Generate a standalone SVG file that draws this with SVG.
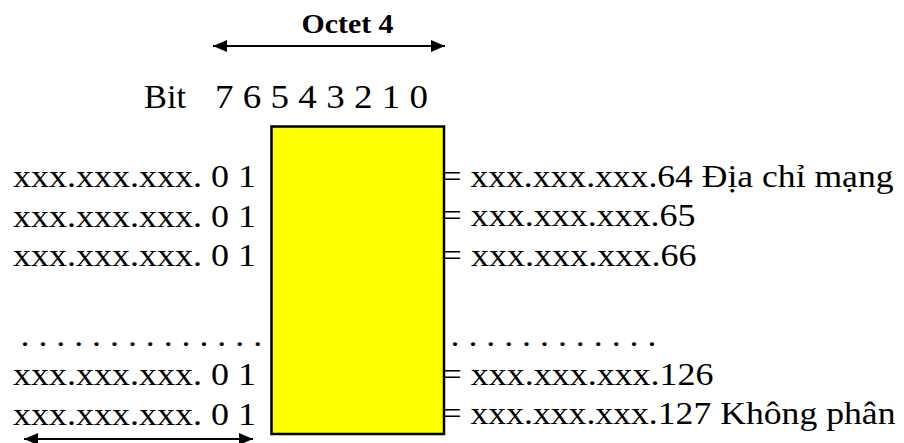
<svg xmlns="http://www.w3.org/2000/svg" width="904" height="443" viewBox="0 0 904 443">
<style>
text{font-family:"Liberation Serif","Times New Roman",serif;font-size:32px;fill:#000}
.b{font-weight:bold;font-size:28px}
.big{font-size:33.5px}
.arr{stroke:#000;stroke-width:2;fill:none}
.box{fill:#FFFF00;stroke:#000;stroke-width:2.5}
</style>
<defs>
<marker id="ah" viewBox="0 0 14 12" refX="14" refY="6" markerWidth="14" markerHeight="12" markerUnits="userSpaceOnUse" orient="auto-start-reverse">
<path d="M0,0 L14,6 L0,12 Z" fill="#000"/>
</marker>
</defs>
<g id="header">
<text class="b" x="301.5" y="32.5" textLength="92" lengthAdjust="spacingAndGlyphs">Octet 4</text>
<text class="big" x="144" y="108" textLength="42" lengthAdjust="spacingAndGlyphs">Bit</text>
<text class="big" x="215" y="108" textLength="213" lengthAdjust="spacingAndGlyphs">7 6 5 4 3 2 1 0</text>
</g>
<g id="left-labels">
<text x="13" y="187" textLength="243" lengthAdjust="spacingAndGlyphs">xxx.xxx.xxx. 0 1</text>
<text x="13" y="226.5" textLength="243" lengthAdjust="spacingAndGlyphs">xxx.xxx.xxx. 0 1</text>
<text x="13" y="266" textLength="243" lengthAdjust="spacingAndGlyphs">xxx.xxx.xxx. 0 1</text>
<text x="20.5" y="346" textLength="241.6" lengthAdjust="spacingAndGlyphs">. . . . . . . . . . . . . .</text>
<text x="13" y="385" textLength="243" lengthAdjust="spacingAndGlyphs">xxx.xxx.xxx. 0 1</text>
<text x="13" y="424.5" textLength="243" lengthAdjust="spacingAndGlyphs">xxx.xxx.xxx. 0 1</text>
</g>
<g id="right-labels">
<text x="441.5" y="186.5" textLength="452" lengthAdjust="spacingAndGlyphs">= xxx.xxx.xxx.64 Địa chỉ mạng</text>
<text x="441.5" y="226" textLength="254" lengthAdjust="spacingAndGlyphs">= xxx.xxx.xxx.65</text>
<text x="441.5" y="265.5" textLength="255" lengthAdjust="spacingAndGlyphs">= xxx.xxx.xxx.66</text>
<text x="450.5" y="346" textLength="205.9" lengthAdjust="spacingAndGlyphs">. . . . . . . . . . . .</text>
<text x="441.5" y="384.5" textLength="272" lengthAdjust="spacingAndGlyphs">= xxx.xxx.xxx.126</text>
<text x="441.5" y="424" textLength="454" lengthAdjust="spacingAndGlyphs">= xxx.xxx.xxx.127 Không phân</text>
</g>
<g id="octet-box">
<rect class="box" x="271.5" y="126.5" width="172.5" height="307.5"/>
</g>
<g id="connectors">
<line class="arr" x1="213" y1="46" x2="445" y2="46" marker-start="url(#ah)" marker-end="url(#ah)"/>
<line class="arr" x1="24" y1="439" x2="253" y2="439" marker-start="url(#ah)" marker-end="url(#ah)"/>
</g>
</svg>
